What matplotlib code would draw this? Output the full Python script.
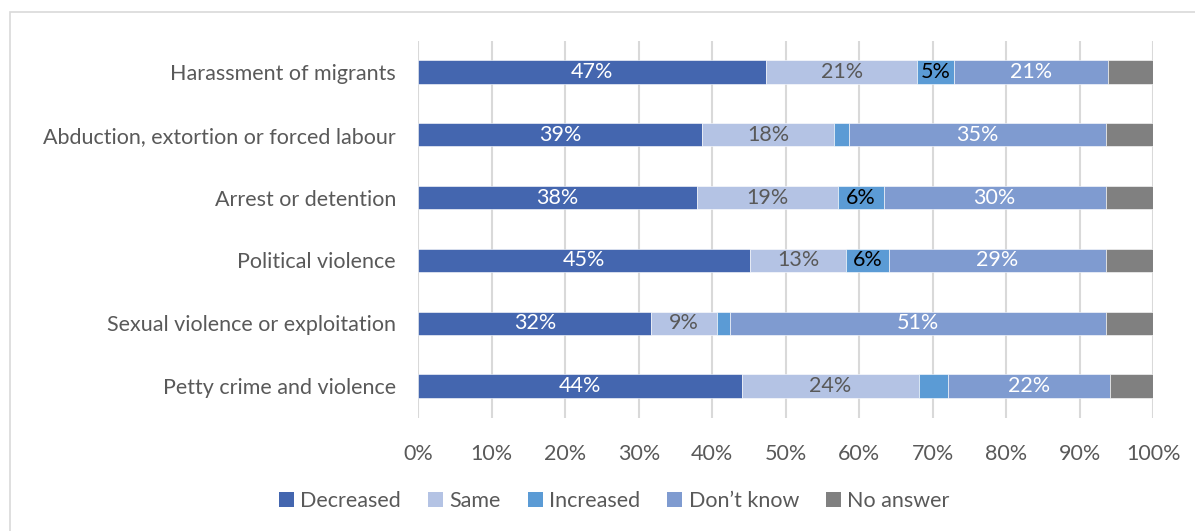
import matplotlib.pyplot as plt
from matplotlib.patches import Rectangle, Patch
from matplotlib.ticker import PercentFormatter
import numpy as np

plt.rcParams['font.family'] = ['Lato', 'DejaVu Sans']

categories = [
    "Harassment of migrants",
    "Abduction, extortion or forced labour",
    "Arrest or detention",
    "Political violence",
    "Sexual violence or exploitation",
    "Petty crime and violence",
]
series_names = ["Decreased", "Same", "Increased", "Don\u2019t know", "No answer"]

decreased = [47.3, 38.6, 37.9, 45.1, 31.7, 44.0]
same = [20.6, 18.0, 19.2, 13.1, 8.9, 24.1]
increased = [5.0, 2.0, 6.2, 5.9, 1.8, 4.0]
dont_know = [20.9, 34.9, 30.2, 29.4, 51.1, 22.0]
no_answer = [6.2, 6.5, 6.5, 6.5, 6.5, 5.9]

colors = ["#4466AF", "#B4C3E4", "#5B9BD5", "#7F9BD0", "#808080"]
label_colors = ["white", "#595959", "black", "white", None]
min_label = 4.5  # segments narrower than this get no label

fig = plt.figure(figsize=(11.95, 5.31), dpi=100)
# chart area border
fig.patches.append(Rectangle((10 / 1195, -0.1), 1.2, 1 - 12 / 531 + 0.1,
                             transform=fig.transFigure, fill=False,
                             edgecolor="#D9D9D9", linewidth=1.2))

ax = fig.add_axes([418.3 / 1195, 1 - 417.5 / 531, (1153.3 - 418.3) / 1195, 377 / 531])

y = np.arange(len(categories))
left = np.zeros(len(categories))
for vals, name, col, lcol in zip([decreased, same, increased, dont_know, no_answer],
                                 series_names, colors, label_colors):
    vals = np.array(vals)
    bars = ax.barh(y, vals, left=left, height=0.37, color=col, label=name,
                   edgecolor="white", linewidth=0.4, zorder=3)
    if lcol is not None:
        for b, v in zip(bars, vals):
            if v >= min_label:
                ax.text(b.get_x() + b.get_width() / 2, b.get_y() + b.get_height() / 2,
                        f"{round(v):.0f}%", ha="center", va="center",
                        color=lcol, fontsize=15.5, zorder=4)
    left += vals

ax.set_xlim(0, 100)
ax.set_ylim(len(categories) - 0.5, -0.5)
ax.set_yticks(y)
ax.set_yticklabels(categories, fontsize=15.5, color="#595959")
ax.set_xticks(np.arange(0, 101, 10))
ax.xaxis.set_major_formatter(PercentFormatter(decimals=0))
ax.tick_params(axis="x", labelsize=15.5, labelcolor="#595959", length=0, pad=19)
ax.tick_params(axis="y", length=0, pad=16)
ax.grid(axis="x", color="#D9D9D9", linewidth=1.5, zorder=0)
for s in ax.spines.values():
    s.set_visible(False)

handles = [Patch(facecolor=c, label=n) for c, n in zip(colors, series_names)]
fig.legend(handles=handles, loc="center", bbox_to_anchor=(0.514, 0.056), ncol=5,
           frameon=False, fontsize=15.5, handlelength=0.7, handleheight=0.7,
           handletextpad=0.3, columnspacing=1.25, labelcolor="#595959")

fig.savefig("out.png", dpi=100)
